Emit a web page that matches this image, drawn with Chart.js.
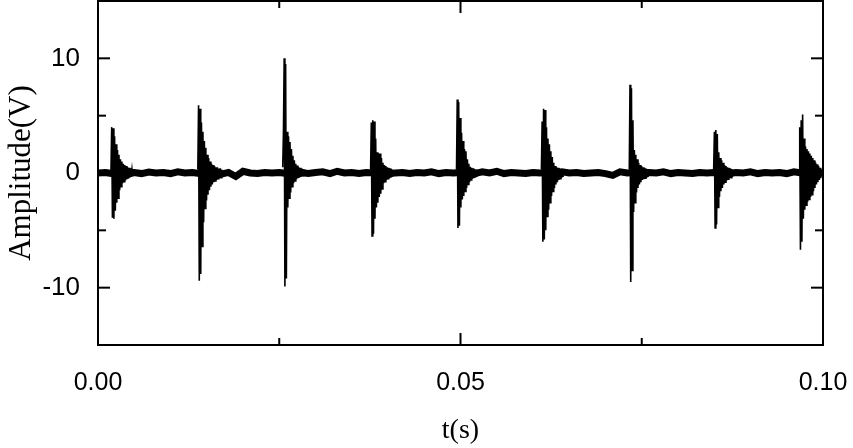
<!DOCTYPE html>
<html><head><meta charset="utf-8">
<script src="https://cdn.jsdelivr.net/npm/chart.js@4/dist/chart.umd.min.js"></script>
<style>html,body{margin:0;padding:0;background:#fff;}#wrap{width:853px;height:448px;position:relative;}</style>
</head><body><div id="wrap"><canvas id="c" width="853" height="448"></canvas></div>
<script>
// ---- axis ticks ----
const xMajorTicks = [0, 0.05, 0.1];
const xTickLabels = ["0.00", "0.05", "0.10"];
const xMinorTicks = [0.025, 0.075];
const yMajorTicks = [-10, 0, 10];
const yTickLabels = ["-10", "0", "10"];
const yMinorTicks = [-5, 5];

// ---- signal data (volts) ----
// baseline noise floor, one value per millisecond from t = 0 to 0.100 s
const baselineStep = 0.001;
const baseline = [
  0, 0.05, -0.05, 0.1, 0, 0.05, -0.05, 0.08, 0, 0.05,
  -0.05, 0.1, 0, 0.05, -0.05, 0.05, 0, -0.1, 0.05, -0.3,
  0.15, 0, -0.05, 0.05, 0, 0.05, -0.05, 0, 0.05, -0.05,
  0.05, 0.1, -0.05, 0.15, 0, 0.05, -0.05, 0.05, 0, 0.1,
  -0.05, 0, 0.05, -0.05, 0.05, 0, 0.1, -0.05, 0.05, 0,
  0.05, 0, -0.05, 0.1, 0, 0.15, -0.05, 0.05, 0, -0.05,
  0.05, 0, 0.05, -0.05, 0.1, 0, 0.05, -0.05, 0, 0.05,
  -0.05, -0.2, 0.1, 0, 0.05, -0.05, 0.05, 0, 0.1, -0.05,
  0.05, 0, -0.05, 0.05, 0, 0.05, 0, -0.05, 0.05, 0,
  0.1, -0.05, 0.05, 0, 0.05, -0.05, 0.1, 0, 0.05, 0,
  0
];

// impact bursts: start time (s) and samples every 0.1 ms
const sampleStep = 0.0001;
const burstStarts = [0.00179, 0.01377, 0.02548, 0.03760, 0.04945, 0.06116, 0.07328, 0.08492, 0.09669];
const burst1 = [0.2, 4.0, -3.9, 3.9, -4.0, 3.2, -3.3, 2.5, -2.6, 2.0, -2.2, 1.6, -1.5, 1.2, -1.2, 1.0, -0.9, 0.8, -0.75, 0.7, -0.65, 0.6, -0.55, 0.5, -0.5, 0.45, -0.4, 0.4, -0.35, 0.3, -0.3, 0.3];
const burst2 = [0.3, 5.9, -9.4, 5.6, -8.8, 4.4, -6.4, 3.6, -4.3, 2.8, -3.1, 2.2, -2.4, 1.6, -1.9, 1.3, -1.5, 1.0, -1.2, 0.8, -1.0, 0.7, -0.8, 0.6, -0.7, 0.5, -0.6, 0.5, -0.5, 0.4, -0.45, 0.4, -0.4, 0.3];
const burst3 = [0.5, 3.6, 10.0, -9.9, 9.5, -9.2, 3.6, -3.0, 3.2, -2.2, 2.7, -1.7, 2.1, -1.2, 1.5, -0.9, 1.1, -0.7, 0.8, -0.55, 0.65, -0.45, 0.5, -0.4, 0.45, -0.35, 0.4, -0.3, 0.35, -0.3];
const burst4 = [0.3, 4.4, -5.5, 4.6, -5.3, 4.5, -4.0, 3.0, -3.0, 1.8, -2.6, 1.7, -2.1, 1.7, -1.8, 1.3, -1.4, 0.9, -0.9, 0.7, -0.75, 0.6, -0.6, 0.5, -0.5, 0.45, -0.45, 0.4, -0.4, 0.35, -0.35];
const burst5 = [0.3, 6.4, -4.8, 6.2, -4.6, 4.8, -3.0, 3.5, -2.3, 2.8, -2.0, 2.1, -1.6, 1.9, -1.3, 1.2, -1.0, 0.8, -0.8, 0.55, -0.6, 0.45, -0.5, 0.4, -0.45, 0.35, -0.4, 0.3, -0.35];
const burst6 = [0.3, 4.5, -6.0, 5.6, -5.8, 5.5, -5.0, 4.0, -3.8, 3.0, -3.2, 2.5, -2.6, 1.9, -2.0, 1.4, -1.6, 0.9, -1.3, 0.6, -1.0, 0.5, -0.8, 0.45, -0.6, 0.4, -0.5, 0.35, -0.4, 0.3, -0.35];
const burst7 = [0.3, 7.7, -9.5, 7.4, -8.5, 4.6, -3.4, 2.0, -2.6, 1.6, -1.7, 1.2, -1.3, 0.9, -1.0, 0.7, -0.8, 0.6, -0.6, 0.5, -0.55, 0.45, -0.45, 0.4, -0.4, 0.35, -0.35];
const burst8 = [0.3, 3.6, -4.8, 3.75, -4.5, 3.4, -3.0, 1.8, -2.1, 1.3, -1.6, 1.1, -1.3, 0.9, -1.0, 0.7, -0.8, 0.6, -0.65, 0.5, -0.55, 0.45, -0.45, 0.4, -0.4, 0.35, -0.35];
const burst9 = [0.3, 4.0, -6.7, 4.6, -6.0, 5.1, -4.0, 3.0, -3.2, 2.3, -2.8, 2.1, -2.5, 1.9, -2.3, 1.7, -2.1, 1.5, -1.9, 1.3, -1.6, 1.1, -1.3, 0.9, -1.0, 0.75, -0.8, 0.6, -0.6, 0.45, -0.45, 0.3];
const bursts = [burst1, burst2, burst3, burst4, burst5, burst6, burst7, burst8, burst9];

// ---- build datasets ----
const datasets = [{
  data: baseline.map((v, i) => ({x: i * baselineStep, y: v})),
  borderColor: '#000', borderWidth: 7, pointRadius: 0, tension: 0
}];
bursts.forEach((arr, b) => {
  datasets.push({
    data: arr.map((v, k) => ({x: burstStarts[b] + k * sampleStep, y: v})),
    borderColor: '#000', borderWidth: 1.6, pointRadius: 0, tension: 0
  });
});

const frameTicks = {
  id: 'frameTicks',
  afterDatasetsDraw(chart) {
    const {ctx, chartArea: a, scales: {x, y}} = chart;
    ctx.save();
    ctx.strokeStyle = '#000';
    ctx.lineWidth = 2;
    ctx.lineCap = 'butt';
    ctx.strokeRect(a.left, a.top, a.right - a.left, a.bottom - a.top);
    const seg = (x1, y1, x2, y2) => { ctx.beginPath(); ctx.moveTo(x1, y1); ctx.lineTo(x2, y2); ctx.stroke(); };
    const xt = (v, len) => { const px = x.getPixelForValue(v); seg(px, a.bottom, px, a.bottom - len); seg(px, a.top, px, a.top + len); };
    const yt = (v, len) => { const py = y.getPixelForValue(v); seg(a.left, py, a.left + len, py); seg(a.right, py, a.right - len, py); };
    xMajorTicks.forEach(v => xt(v, 12));
    xMinorTicks.forEach(v => xt(v, 7));
    yMajorTicks.forEach(v => yt(v, 12));
    yMinorTicks.forEach(v => yt(v, 8));
    ctx.restore();
  }
};

new Chart(document.getElementById('c'), {
  type: 'line',
  data: {datasets},
  plugins: [frameTicks],
  options: {
    responsive: false, animation: false, devicePixelRatio: 1,
    layout: {padding: {top: 1, right: 30, bottom: 0, left: 0}},
    plugins: {legend: {display: false}, tooltip: {enabled: false}},
    elements: {line: {tension: 0}, point: {radius: 0}},
    scales: {
      x: {
        type: 'linear', min: 0, max: 0.1,
        afterBuildTicks: s => { s.ticks = xMajorTicks.map(v => ({value: v})); },
        afterFit: s => { s.height = 103; s.paddingLeft = 0; s.paddingRight = 0; },
        grid: {display: false, drawTicks: false},
        border: {display: false},
        ticks: {
          padding: 23, color: '#000', maxRotation: 0, autoSkip: false,
          font: {family: '"Liberation Sans", Arial, sans-serif', size: 25},
          callback: (v, i) => xTickLabels[i]
        },
        title: {display: true, text: 't(s)', color: '#000', padding: {top: 0, bottom: 1},
          font: {family: '"Liberation Serif", "Times New Roman", serif', size: 28}}
      },
      y: {
        type: 'linear', min: -15, max: 15,
        afterBuildTicks: s => { s.ticks = yMajorTicks.map(v => ({value: v})); },
        afterFit: s => { s.width = 98; s.paddingTop = 0; s.paddingBottom = 0; },
        grid: {display: false, drawTicks: false},
        border: {display: false},
        ticks: {
          padding: 18, color: '#000', autoSkip: false,
          font: {family: '"Liberation Sans", Arial, sans-serif', size: 26},
          callback: (v, i) => yTickLabels[i]
        },
        title: {display: true, text: 'Amplitude(V)', color: '#000', padding: {top: 3, bottom: 0},
          font: {family: '"Liberation Serif", "Times New Roman", serif', size: 31}}
      }
    }
  }
});
</script></body></html>
